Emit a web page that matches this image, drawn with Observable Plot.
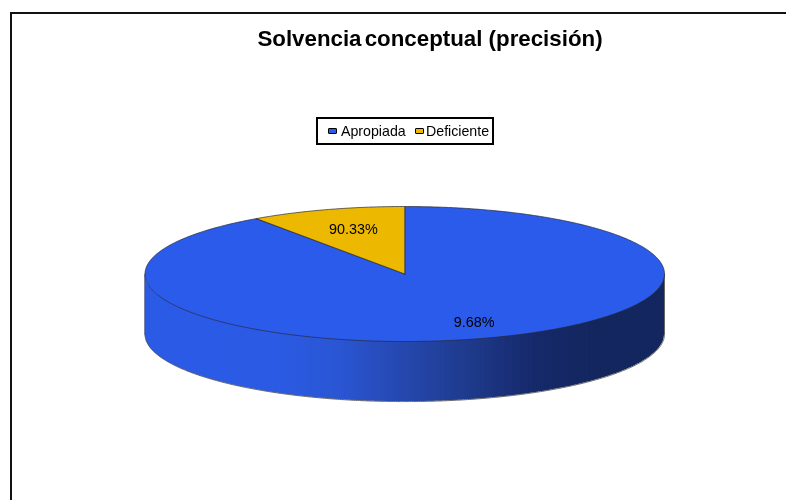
<!DOCTYPE html>
<html lang="es">
<head>
<meta charset="utf-8">
<script src="https://cdn.jsdelivr.net/npm/d3@7"></script>
<script src="https://cdn.jsdelivr.net/npm/@observablehq/plot@0.6"></script>
<style>
  html, body { margin: 0; padding: 0; background: #fff; }
  body { width: 786px; height: 500px; overflow: hidden; position: relative; font-family: "Liberation Sans", Arial, sans-serif; color: #000; }
  #chart { position: absolute; left: 0; top: 0; width: 786px; height: 500px; filter: blur(0.35px); }
  #chart svg { display: block; max-width: none; }
  #frame { position: absolute; left: 10px; top: 12px; right: -4px; bottom: -4px; border: 2.5px solid #111; pointer-events: none; }
  #title { position: absolute; left: 130px; width: 600px; top: 27px; text-align: center; font-weight: bold; font-size: 22.3px; line-height: 24px; filter: blur(0.35px); }
  #title span { word-spacing: -3px; }
  #legend { position: absolute; left: 316px; top: 117px; width: 174px; height: 24px; border: 2px solid #000; font-size: 14.2px; line-height: 24px; white-space: nowrap; filter: blur(0.3px); }
  #legend i { position: absolute; top: 9px; width: 7px; height: 4px; border: 1.2px solid #000; border-radius: 1px; }
  #legend span { position: absolute; top: 0; }
</style>
</head>
<body>
<div id="chart"></div>
<div id="frame"></div>
<div id="title"><span>Solvencia conceptual</span> (precisión)</div>
<div id="legend"></div>
<script>
const categories = ["Apropiada", "Deficiente"];
const values = [90.33, 9.68];
const sliceLabels = ["9.68%", "90.33%"];
const sliceColors = ["#2b5bea", "#ecb900"];
const sideShadeStops = ["#2b5be6", "#2b5be6", "#2b5be4", "#2a56d4", "#2548ae", "#1e3a8c", "#16296a", "#13265e", "#13265e"];
const depth = 0.89;

const total = d3.sum(values);
const toAngle = v => (v / total) * 2 * Math.PI;
const a0 = toAngle(values[0]);

function arc(name, start, end) {
  const n = Math.max(2, Math.ceil((end - start) / 0.01));
  const pts = [{name, x: 0, y: 0}];
  for (let i = 0; i <= n; i++) {
    const t = start + (end - start) * i / n;
    pts.push({name, x: Math.sin(t), y: -Math.cos(t)});
  }
  pts.push({name, x: 0, y: 0});
  return pts;
}
const slices = [
  {name: categories[0], pts: arc(categories[0], 0, a0), color: sliceColors[0]},
  {name: categories[1], pts: arc(categories[1], a0, 2 * Math.PI), color: sliceColors[1]}
];

// front wall, drawn as overlapping vertical bands, left to right
const shade = d3.piecewise(d3.interpolateRgb, sideShadeStops);
const stripCount = 130;
const wall = [];
for (let i = 0; i < stripCount; i++) {
  const color = shade((i + 0.5) / stripCount);
  const xa = -1 + 2 * i / stripCount;
  const xb = Math.min(1, -1 + 2 * (i + 2) / stripCount);
  for (let k = 0; k <= 6; k++) {
    const x = xa + (xb - xa) * k / 6;
    const yy = Math.sqrt(Math.max(0, 1 - x * x));
    wall.push({strip: i, x, y1: yy, y2: yy + depth, color});
  }
}
const xs = d3.range(0, 361).map(i => -Math.cos(i * Math.PI / 360));
const lower = xs.map(x => ({x, y: Math.sqrt(Math.max(0, 1 - x * x)) + depth}));
const edgeL = [{x: -1, y: 0}, {x: -1, y: depth}];
const edgeR = [{x: 1, y: 0}, {x: 1, y: depth}];

const midA = a0 / 2, midB = (a0 + 2 * Math.PI) / 2;
const labelData = [
  {label: sliceLabels[0], x: Math.sin(midA) * 0.66, y: -Math.cos(midA) * 0.66, dx: 18, dy: 6},
  {label: sliceLabels[1], x: Math.sin(midB) * 0.66, y: -Math.cos(midB) * 0.66, dx: 0, dy: -2}
];

const plot = Plot.plot({
  width: 786, height: 500,
  margin: 0,
  style: {background: "transparent"},
  x: {domain: [-1, 1], range: [144.5, 664], axis: null},
  y: {domain: [-1, 1], range: [206, 341], axis: null},
  color: {type: "identity"},
  marks: [
    Plot.areaY(wall, {x: "x", y1: "y1", y2: "y2", z: "strip", fill: "color"}),
    Plot.line(lower, {x: "x", y: "y", stroke: "#555", strokeWidth: 0.9}),
    Plot.line(edgeL, {x: "x", y: "y", stroke: "#555", strokeWidth: 0.9}),
    Plot.line(edgeR, {x: "x", y: "y", stroke: "#555", strokeWidth: 0.9}),
    ...slices.map(s => Plot.line(s.pts, {x: "x", y: "y", fill: () => s.color, stroke: "#26283a", strokeWidth: 0.7, strokeLinejoin: "round"})),
    ...labelData.map(l => Plot.text([l], {x: "x", y: "y", text: "label", dx: l.dx, dy: l.dy, fontSize: 14.4, letterSpacing: "-0.2px", fontFamily: "Liberation Sans, Arial, sans-serif", fill: "#000"}))
  ]
});
document.getElementById("chart").append(plot);

// legend
const legend = document.getElementById("legend");
const legendOffsets = [[10, 23], [97, 108]];
categories.forEach((c, i) => {
  const sw = document.createElement("i");
  sw.style.left = legendOffsets[i][0] + "px";
  sw.style.background = sliceColors[i];
  const tx = document.createElement("span");
  tx.style.left = legendOffsets[i][1] + "px";
  tx.textContent = c;
  legend.append(sw, tx);
});
</script>
</body>
</html>
